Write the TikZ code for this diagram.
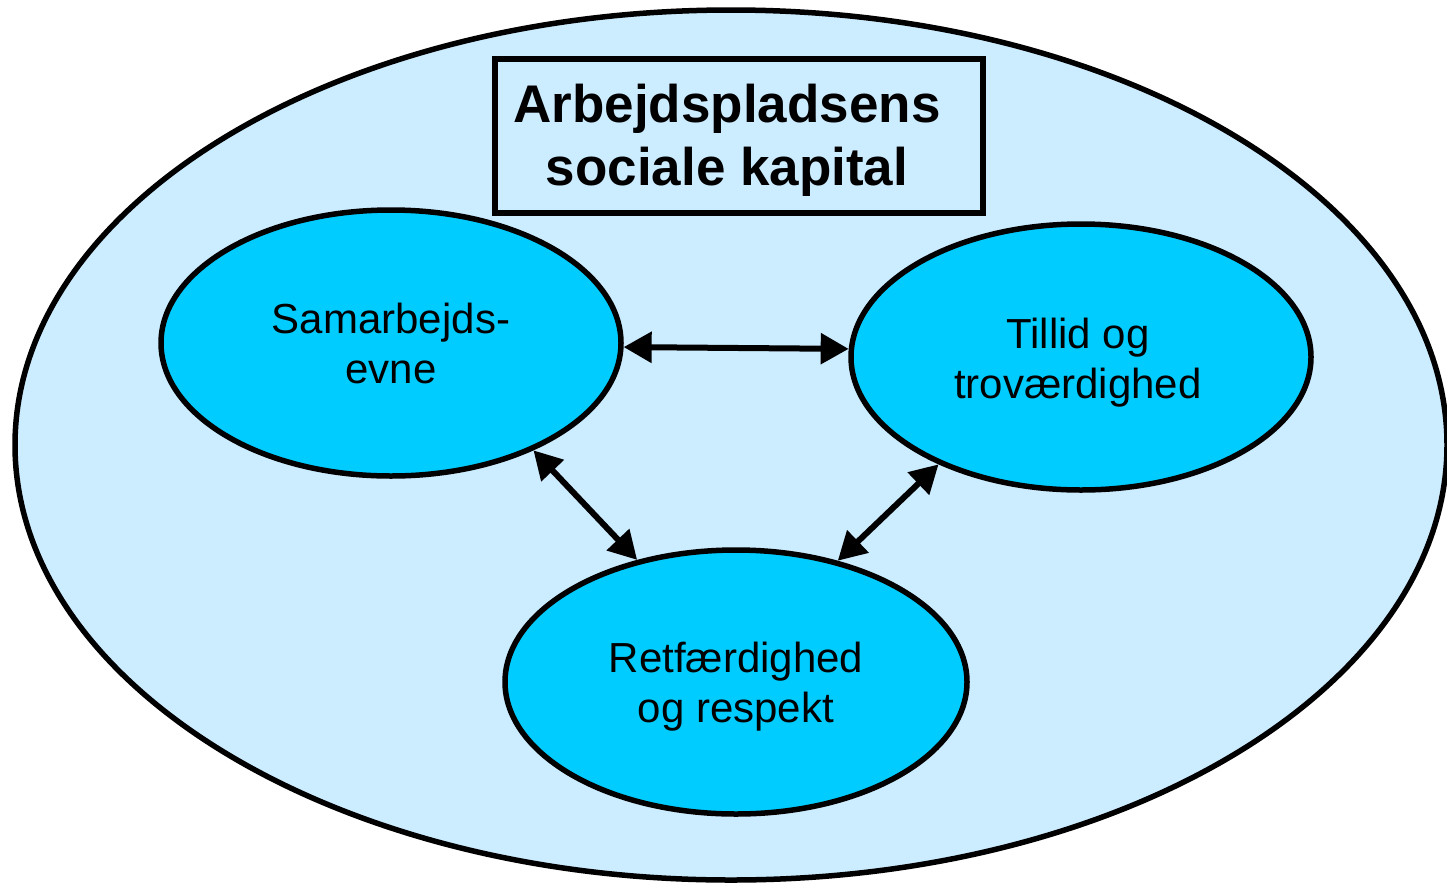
\documentclass[tikz,border=0pt]{standalone}
\usepackage{fontspec}
\setmainfont{Liberation Sans}
\usetikzlibrary{arrows.meta,shapes.geometric}
\definecolor{outerblue}{HTML}{CCECFF}
\definecolor{innerblue}{HTML}{00CCFF}
\tikzset{
  bigell/.style={ellipse, draw=black, line width=5.5pt, fill=outerblue, inner sep=0pt},
  smallell/.style={ellipse, draw=black, line width=5.5pt, fill=innerblue, inner sep=0pt, minimum width=460pt, minimum height=266pt},
  titlebox/.style={rectangle, draw=black, line width=5.5pt, inner sep=0pt, minimum width=488pt, minimum height=154pt},
  titletext/.style={anchor=base, inner sep=0pt, font=\fontsize{53}{63}\selectfont\bfseries},
  elltext/.style={anchor=base, inner sep=0pt, font=\fontsize{42}{50}\selectfont},
  dbl/.style={line width=6pt, {Triangle[length=28pt,width=30pt]}-{Triangle[length=28pt,width=30pt]}}
}
\begin{document}
\begin{tikzpicture}[x=1pt,y=-1pt]
\useasboundingbox (0,0) rectangle (1447,884);
\node[bigell, minimum width=1432pt, minimum height=870pt] (outer) at (731,445) {};
\node[titlebox] (box) at (739,136) {};
\node[titletext] (title) at (727,122) {\begin{tabular}[t]{@{}c@{}}Arbejdspladsens\\sociale kapital\end{tabular}};
\node[smallell] (sam) at (391,343) {};
\node[smallell] (til) at (1081,357) {};
\node[smallell, minimum width=462pt, minimum height=264pt] (ret) at (736,682) {};
\node[elltext] (samt) at (391,333) {\begin{tabular}[t]{@{}c@{}}Samarbejds-\\evne\end{tabular}};
\node[elltext] (tilt) at (1078,348) {\begin{tabular}[t]{@{}c@{}}Tillid og\\troværdighed\end{tabular}};
\node[elltext] (rett) at (736,672) {\begin{tabular}[t]{@{}c@{}}Retfærdighed\\og respekt\end{tabular}};
\draw[dbl] (sam.-1.7) -- (til.178.3);
\draw[dbl] (sam.-37) -- (ret.129.2);
\draw[dbl] (til.217.5) -- (ret.50.8);
\end{tikzpicture}
\end{document}
